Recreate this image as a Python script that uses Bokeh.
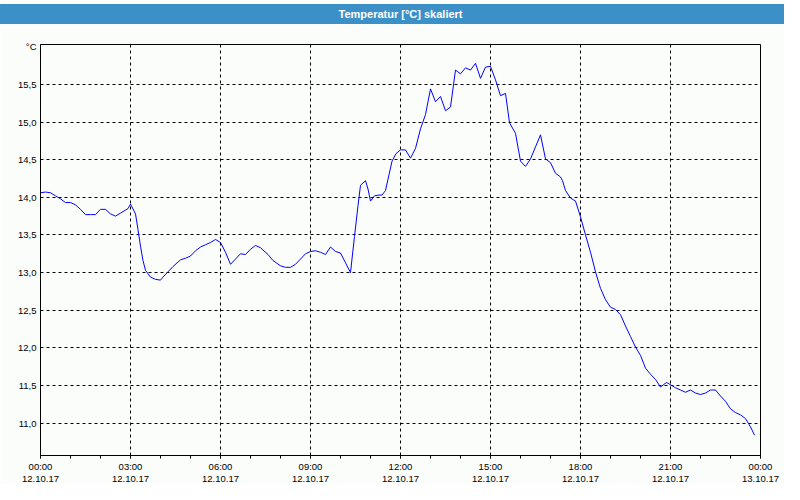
from bokeh.plotting import figure
from bokeh.models import FixedTicker, LinearAxis, Range1d, Title, Grid
from bokeh.embed import file_html
from bokeh.resources import INLINE

title_text = "Temperatur [°C] skaliert"
y_unit = "°C"

minutes = [0, 10, 20, 30, 40, 50, 60, 70, 80, 90, 100, 110, 120, 130, 140, 150, 160, 170, 175, 180,
           190, 195, 200, 205, 210, 220, 230, 240, 245, 255, 265, 280, 290, 300, 310, 320, 330, 340, 350, 360,
           370, 380, 390, 400, 410, 420, 430, 440, 455, 465, 480, 490, 500, 510, 520, 530, 540, 550, 560, 570,
           580, 590, 600, 610, 620, 628, 635, 640, 650, 655, 660, 668, 677, 683, 690, 697, 703, 711, 720, 730,
           740, 750, 760, 770, 780, 790, 800, 810, 820, 830, 840, 850, 860, 870, 880, 890, 900, 910, 920, 930,
           938, 950, 960, 970, 980, 990, 1000, 1010, 1020, 1030, 1040, 1044, 1050, 1060, 1070, 1080, 1090, 1100, 1110, 1120,
           1130, 1140, 1150, 1160, 1170, 1180, 1190, 1200, 1210, 1220, 1230, 1240, 1252, 1260, 1270, 1280, 1290, 1300, 1310, 1320,
           1330, 1340, 1350, 1360, 1370, 1380, 1390, 1400, 1410, 1420, 1428]
temps = [14.06, 14.07, 14.06, 14.02, 13.98, 13.93, 13.93, 13.90, 13.84, 13.77, 13.77, 13.77, 13.84, 13.84, 13.78, 13.75, 13.79, 13.83, 13.85, 13.91,
         13.78, 13.57, 13.35, 13.16, 13.03, 12.94, 12.91, 12.90, 12.94, 13.01, 13.08, 13.17, 13.19, 13.22, 13.29, 13.34, 13.37, 13.40, 13.44, 13.40,
         13.27, 13.11, 13.18, 13.25, 13.24, 13.31, 13.36, 13.33, 13.24, 13.16, 13.09, 13.07, 13.07, 13.11, 13.18, 13.25, 13.28, 13.29, 13.27, 13.24,
         13.34, 13.28, 13.26, 13.13, 13.00, 13.48, 13.89, 14.16, 14.22, 14.11, 13.95, 14.02, 14.03, 14.03, 14.09, 14.30, 14.48, 14.58, 14.63, 14.63,
         14.52, 14.65, 14.91, 15.10, 15.44, 15.27, 15.34, 15.15, 15.20, 15.69, 15.64, 15.72, 15.69, 15.78, 15.58, 15.73, 15.74, 15.56, 15.35, 15.38,
         14.99, 14.85, 14.48, 14.41, 14.51, 14.67, 14.83, 14.51, 14.46, 14.32, 14.27, 14.22, 14.09, 13.99, 13.95, 13.74, 13.50, 13.27, 13.01, 12.79,
         12.64, 12.54, 12.51, 12.44, 12.29, 12.15, 12.01, 11.90, 11.73, 11.65, 11.58, 11.48, 11.54, 11.51, 11.47, 11.44, 11.41, 11.44, 11.40, 11.38,
         11.40, 11.44, 11.44, 11.36, 11.29, 11.19, 11.14, 11.11, 11.06, 10.95, 10.84]

x_tick_hours = [0, 3, 6, 9, 12, 15, 18, 21, 24]
x_minor_hours = list(range(25))
x_time_labels = ["00:00", "03:00", "06:00", "09:00", "12:00", "15:00", "18:00", "21:00", "00:00"]
x_date_labels = ["12.10.17"] * 8 + ["13.10.17"]
y_ticks = [11.0, 11.5, 12.0, 12.5, 13.0, 13.5, 14.0, 14.5, 15.0, 15.5]
y_tick_labels = ["11,0", "11,5", "12,0", "12,5", "13,0", "13,5", "14,0", "14,5", "15,0", "15,5"]
y_unit_tick = 16.0

hours = [m / 60 for m in minutes]

FONT = "Liberation Sans"
BG = "#fbfdfb"
BAR = "#3c90c8"

p = figure(width=784, height=484, output_backend="svg", toolbar_location=None,
           x_range=Range1d(0, 24), y_range=Range1d(10.57, 16.03),
           x_axis_type=None, y_axis_type=None,
           min_border_left=40, min_border_right=24, min_border_top=0, min_border_bottom=0,
           background_fill_color=BG, border_fill_color=BG)

# title bar (outermost above panel)
p.title = Title(text=title_text, align="center", vertical_align="middle", text_color="white",
                text_font=FONT, text_font_size="11px", text_font_style="bold",
                background_fill_color=BAR, padding=(400, 4), standoff=5)
# spacer between title bar and frame
p.add_layout(Title(text=" ", text_font_size="1px", standoff=14), "above")

p.outline_line_color = "black"
p.outline_line_width = 1
p.outline_line_alpha = 1

# y axis
yax = LinearAxis(ticker=FixedTicker(ticks=y_ticks + [y_unit_tick]))
yax.major_label_overrides = {**{t: l for t, l in zip(y_ticks, y_tick_labels)}, y_unit_tick: y_unit}
yax.axis_line_color = "black"
yax.major_tick_out = 0
yax.major_tick_in = 0
yax.minor_tick_out = 0
yax.minor_tick_in = 0
yax.major_label_standoff = 4
yax.major_label_text_font = FONT
yax.major_label_text_font_size = "9.5px"
yax.major_label_text_color = "black"
p.add_layout(yax, "left")

# x axis (times)
xax = LinearAxis(ticker=FixedTicker(ticks=x_tick_hours, minor_ticks=x_minor_hours))
xax.major_label_overrides = {t: l for t, l in zip(x_tick_hours, x_time_labels)}
xax.axis_line_color = "black"
xax.major_tick_out = 3
xax.major_tick_in = 0
xax.minor_tick_out = 3
xax.minor_tick_in = 0
xax.major_tick_line_color = "black"
xax.minor_tick_line_color = "black"
xax.major_label_standoff = 2
xax.major_label_text_font = FONT
xax.major_label_text_font_size = "9.5px"
xax.major_label_text_color = "black"
p.add_layout(xax, "below")

# x axis (dates)
xax2 = LinearAxis(ticker=FixedTicker(ticks=x_tick_hours))
xax2.major_label_overrides = {t: l for t, l in zip(x_tick_hours, x_date_labels)}
xax2.axis_line_color = None
xax2.major_tick_line_color = None
xax2.minor_tick_line_color = None
xax2.major_tick_out = 0
xax2.major_tick_in = 0
xax2.major_label_standoff = 1
xax2.major_label_text_font = FONT
xax2.major_label_text_font_size = "9.5px"
xax2.major_label_text_color = "black"
p.add_layout(xax2, "below")

# grids
xg = Grid(dimension=0, ticker=FixedTicker(ticks=x_tick_hours[1:-1]),
          grid_line_color="black", grid_line_dash="3 3", grid_line_width=1)
yg = Grid(dimension=1, ticker=FixedTicker(ticks=y_ticks),
          grid_line_color="black", grid_line_dash="3 3", grid_line_width=1)
p.add_layout(xg)
p.add_layout(yg)

p.line(hours, temps, line_color="#0000ff", line_width=1)

open("out.html", "w").write(file_html(p, INLINE))
